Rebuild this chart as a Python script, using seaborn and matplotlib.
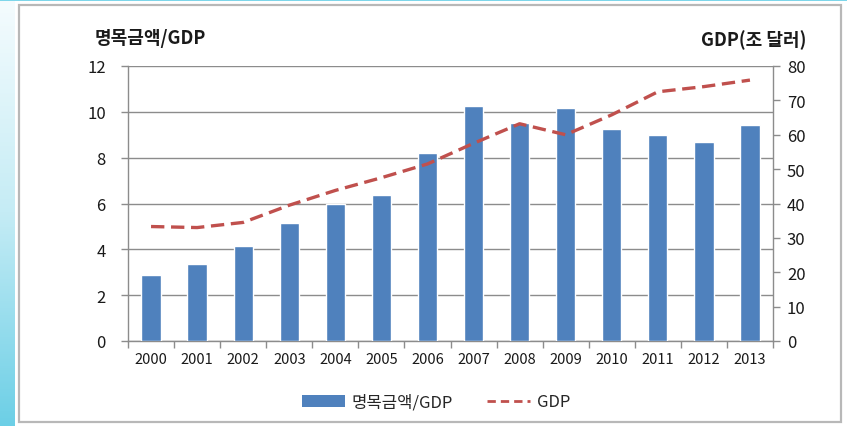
import numpy as np
import pandas as pd
import matplotlib
matplotlib.use("Agg")
import matplotlib.pyplot as plt
from matplotlib.patches import Rectangle, Patch
from matplotlib.lines import Line2D
import seaborn as sns

# Data
years = ["2000", "2001", "2002", "2003", "2004", "2005", "2006",
         "2007", "2008", "2009", "2010", "2011", "2012", "2013"]
ratio = [2.87, 3.37, 4.15, 5.15, 5.98, 6.38, 8.22,
         10.25, 9.53, 10.16, 9.24, 9.0, 8.68, 9.42]
gdp = [33.3, 33.0, 34.5, 39.5, 43.8, 47.5, 51.5,
       57.5, 63.2, 60.0, 65.8, 72.5, 74.0, 75.9]

y_left_title = "명목금액/GDP"
y_right_title = "GDP(조 달러)"
bar_label = "명목금액/GDP"
line_label = "GDP"

bar_color = "#4F81BD"
line_color = "#C0504D"
grid_color = "#8C8C8C"
text_color = "#1a1a1a"

sns.set_theme(style="white")
plt.rcParams["font.family"] = ["Noto Sans CJK KR", "DejaVu Sans"]

df = pd.DataFrame({"year": years, "ratio": ratio, "gdp": gdp})
df["pos"] = np.arange(len(df))

fig = plt.figure(figsize=(8.47, 4.27), dpi=100)
fig.patch.set_facecolor("white")

# Decorative slide frame: cyan gradient strip, top line and grey border
grad = np.linspace(0, 1, 256).reshape(-1, 1)
strip_ax = fig.add_axes([0, 0, 14 / 847, 1])
strip_ax.imshow(grad, aspect="auto", origin="upper",
                cmap=matplotlib.colors.LinearSegmentedColormap.from_list(
                    "strip", ["#F5FCFE", "#C5ECF5", "#6CCFE6"]),
                extent=[0, 1, 0, 1])
strip_ax.set_axis_off()
fig.add_artist(Rectangle((0, 1 - 2 / 427), 1, 2 / 427, transform=fig.transFigure,
                         facecolor="#7ED6EA", edgecolor="none"))
fig.add_artist(Rectangle((19 / 847, 1 - 423 / 427), (841 - 19) / 847, (423 - 6) / 427,
                         transform=fig.transFigure, facecolor="none",
                         edgecolor="#B8B8B8", linewidth=1.6))

ax = fig.add_axes([128 / 847, 1 - 342 / 427, (773 - 128) / 847, (342 - 67) / 427])
ax.set_facecolor("white")

sns.barplot(data=df, x="year", y="ratio", color=bar_color, width=0.42,
            saturation=1, ax=ax, zorder=3)
ax.set_ylim(0, 12)
ax.set_yticks(np.arange(0, 13, 2))
ax.set_xlim(-0.5, len(years) - 0.5)
ax.yaxis.grid(True, color=grid_color, linewidth=1.0, zorder=0)
ax.set_axisbelow(True)
ax.set_xlabel("")
ax.set_ylabel("")

ax2 = ax.twinx()
sns.lineplot(data=df, x="pos", y="gdp", color=line_color, linewidth=2.4,
             ax=ax2, zorder=4)
ax2.lines[0].set_dashes([4, 2.0])
ax2.set_ylim(0, 80)
ax2.set_yticks(np.arange(0, 81, 10))
ax2.set_xlim(-0.5, len(years) - 0.5)
ax2.set_xlabel("")
ax2.set_ylabel("")

for a in (ax, ax2):
    a.spines["top"].set_visible(False)
    for s in a.spines.values():
        s.set_color(grid_color)
        s.set_linewidth(1.0)
ax.spines["right"].set_visible(False)
ax2.spines["left"].set_visible(False)
ax2.spines["bottom"].set_visible(False)

# category boundary ticks on the x axis
ax.set_xticks(np.arange(len(years)))
ax.set_xticklabels(years)
ax.set_xticks(np.arange(-0.5, len(years), 1), minor=True)
ax.tick_params(axis="x", which="major", length=0, pad=8, labelsize=10.5,
               labelcolor=text_color)
ax.tick_params(axis="x", which="minor", length=5, color=grid_color, width=1, bottom=True)
ax.tick_params(axis="y", length=5, color=grid_color, width=1, left=True, pad=11,
               labelsize=12, labelcolor=text_color)
ax2.tick_params(axis="y", length=5, color=grid_color, width=1, right=True, pad=5,
                labelsize=12, labelcolor=text_color)

fig.text(95 / 847, 1 - 38 / 427, y_left_title, fontsize=13, fontweight="bold",
         ha="left", va="center", color=text_color)
fig.text(806 / 847, 1 - 40 / 427, y_right_title, fontsize=13, fontweight="bold",
         ha="right", va="center", color=text_color)

handles = [Patch(facecolor=bar_color, edgecolor="none"),
           Line2D([0], [0], color=line_color, linewidth=2, dashes=[3, 1.8])]
fig.legend(handles, [bar_label, line_label], loc="center",
           bbox_to_anchor=(436 / 847, 1 - 403 / 427), ncol=2, frameon=False,
           fontsize=12, handlelength=2.6, handleheight=0.7, columnspacing=2.0,
           handletextpad=0.4)

fig.savefig("out.png", dpi=100, facecolor="white")
